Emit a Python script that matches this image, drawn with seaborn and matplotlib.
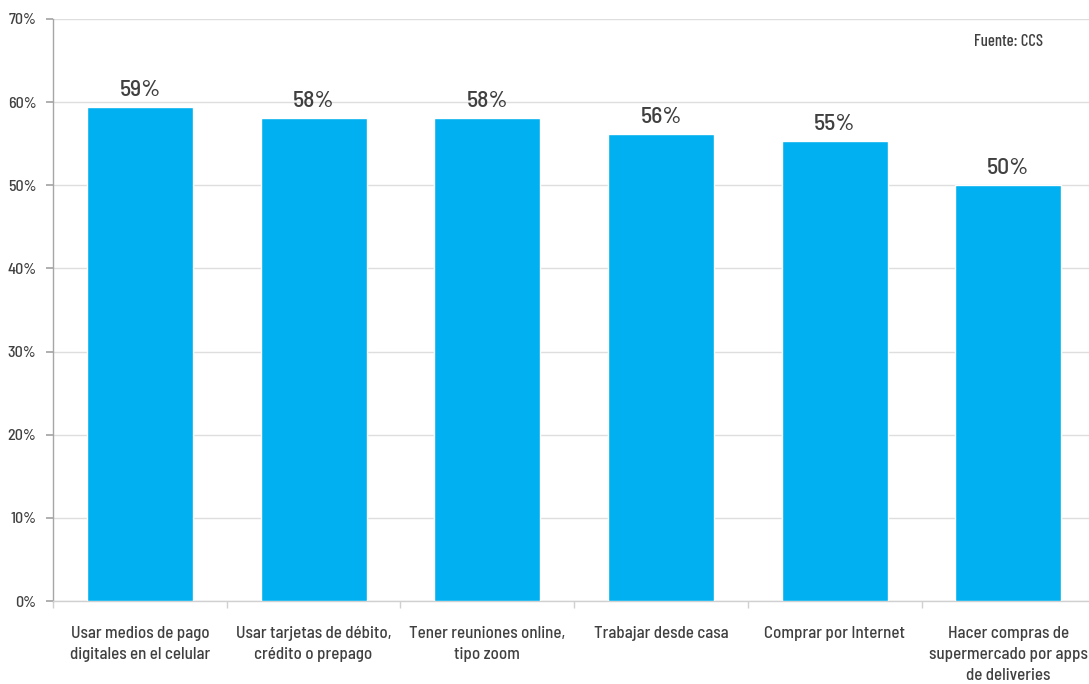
import matplotlib
matplotlib.use("Agg")
import matplotlib.pyplot as plt
from matplotlib.ticker import FuncFormatter, FixedLocator
import seaborn as sns
import pandas as pd

categories = [
    "Usar medios de pago\ndigitales en el celular",
    "Usar tarjetas de débito,\ncrédito o prepago",
    "Tener reuniones online,\ntipo zoom",
    "Trabajar desde casa",
    "Comprar por Internet",
    "Hacer compras de\nsupermercado por apps\nde deliveries",
]
values = [59.4, 58.1, 58.1, 56.2, 55.3, 50.0]
value_labels = ["59%", "58%", "58%", "56%", "55%", "50%"]
y_ticks = [0, 10, 20, 30, 40, 50, 60, 70]
source_note = "Fuente: CCS"

sns.set_theme(style="white")
plt.rcParams["font.family"] = ["Barlow Semi Condensed", "DejaVu Sans"]
plt.rcParams["font.weight"] = "medium"

text_color = "#404040"
bar_color = "#00B0F0"

df = pd.DataFrame({"actividad": categories, "pct": values})

fig = plt.figure(figsize=(10.89, 6.84), dpi=100)
ax = fig.add_axes([0.0487, 0.1213, 0.957, 0.851])

sns.barplot(data=df, x="actividad", y="pct", color=bar_color, width=0.61,
            saturation=1, ax=ax, zorder=3)

ax.set_ylim(0, 70)
ax.set_xlim(-0.5, len(categories) - 0.5)
ax.yaxis.set_major_locator(FixedLocator(y_ticks))
ax.yaxis.set_major_formatter(FuncFormatter(lambda v, _: f"{v:.0f}%"))
ax.grid(axis="y", color="#dedede", linewidth=1.0, zorder=0)
ax.set_axisbelow(True)

ax.set_xlabel("")
ax.set_ylabel("")

for s in ["top", "right"]:
    ax.spines[s].set_visible(False)
ax.spines["left"].set_color("#a6a6a6")
ax.spines["bottom"].set_color("#d0d0d0")
ax.spines["left"].set_linewidth(1.0)
ax.spines["bottom"].set_linewidth(1.0)

ax.tick_params(axis="y", left=True, length=5, color="#a6a6a6",
               labelsize=11.5, labelcolor=text_color, pad=7)
ax.tick_params(axis="x", bottom=False, labelsize=12.2, labelcolor=text_color, pad=12)
ax.set_xticks(range(len(categories)))
ax.set_xticklabels(categories, linespacing=1.5)
ax.set_xticks([i + 0.5 for i in range(-1, len(categories))], minor=True)
ax.tick_params(axis="x", which="minor", bottom=True, length=5, color="#d0d0d0")

for i, (v, lab) in enumerate(zip(values, value_labels)):
    ax.annotate(lab, (i, v), xytext=(0, 5), textcoords="offset points",
                ha="center", va="bottom", fontsize=17, color=text_color)

ax.text(5, 67.3, source_note, ha="center", va="center",
        fontsize=12, color=text_color, family=["Barlow Condensed", "DejaVu Sans"])

fig.savefig("out.png", dpi=100)
